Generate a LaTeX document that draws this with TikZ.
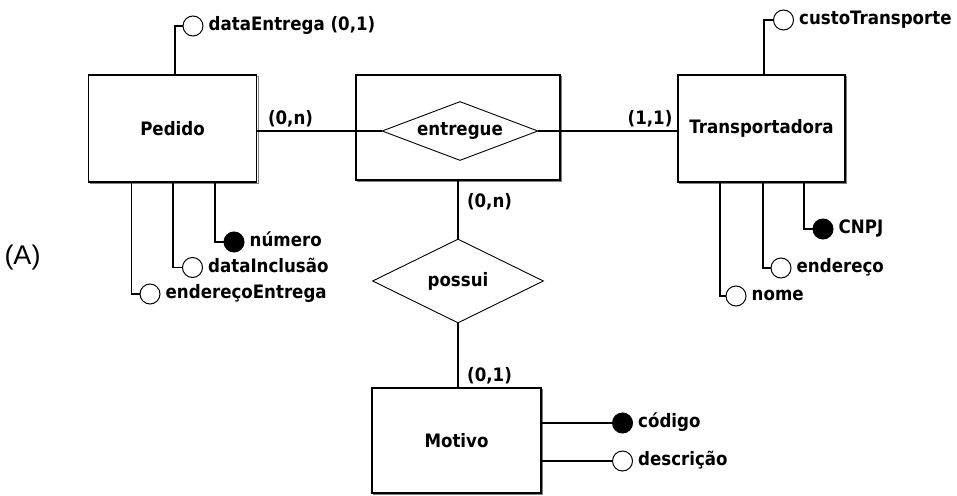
\documentclass[tikz,border=0pt]{standalone}
\usepackage{fontspec}
\setmainfont{DejaVu Sans Condensed}
\newfontfamily\labelfont{Liberation Sans}
\usetikzlibrary{shapes.geometric,shadows,positioning}
\begin{document}
\begin{tikzpicture}[x=1pt,y=-1pt,
  every node/.style={font=\bfseries\fontsize{18.5}{21}\selectfont},
  entity/.style={draw, line width=1.2pt, fill=white, rectangle, inner sep=0,
    copy shadow={shadow xshift=1.6pt, shadow yshift=-1.6pt, draw=black!50, fill=none, line width=1.2pt}},
  rel/.style={draw, diamond, line width=0.9pt, fill=white, inner sep=0},
  attr/.style={draw, circle, line width=1pt, minimum size=20pt, inner sep=0, fill=white},
  keyattr/.style={attr, fill=black},
  lbl/.style={inner sep=0, text height=13.5pt, text depth=4pt, right=5pt of #1},
  card/.style={inner sep=0, text height=13.5pt, text depth=4pt},
  conn/.style={line width=1.2pt}
]
\useasboundingbox (0,0) rectangle (957,495);

% entities and relationships
\node[entity, minimum width=168pt, minimum height=107pt] (ped) at (172.5,128.5) {Pedido};
\node[entity, minimum width=204pt, minimum height=105pt] (agg) at (458,127.5) {};
\node[rel, minimum width=156pt, minimum height=59pt, aspect=2.6] (ent) at (460,131) {entregue};
\node[entity, minimum width=167pt, minimum height=107pt] (tr) at (761.5,128.5) {Transportadora};
\node[rel, minimum width=171pt, minimum height=84pt, aspect=2] (pos) at (458,281) {possui};
\node[entity, minimum width=169pt, minimum height=105pt] (mot) at (456.5,440.5) {Motivo};

% attributes
\node[attr] (dE) at (193,26) {};
\node[lbl=dE] (dEl) {dataEntrega (0,1)};
\node[attr] (cT) at (783.5,20) {};
\node[lbl=cT] (cTl) {custoTransporte};
\node[keyattr] (num) at (234,242) {};
\node[lbl=num] (numl) {número};
\node[attr] (dI) at (192.5,267.5) {};
\node[lbl=dI] (dIl) {dataInclusão};
\node[attr] (eE) at (150,294) {};
\node[lbl=eE] (eEl) {endereçoEntrega};
\node[keyattr] (cnpj) at (823,229) {};
\node[lbl=cnpj] (cnpjl) {CNPJ};
\node[attr] (end) at (781,268) {};
\node[lbl=end] (endl) {endereço};
\node[attr] (nom) at (736,296) {};
\node[lbl=nom] (noml) {nome};
\node[keyattr] (cod) at (622.5,423) {};
\node[lbl=cod] (codl) {código};
\node[attr] (desc) at (622.5,461) {};
\node[lbl=desc] (descl) {descrição};

% connectors
\draw[conn] (dE.west) -| ([xshift=2.5pt]ped.north);
\draw[conn] (cT.west) -| ([xshift=2.5pt]tr.north);
\draw[conn] (num.west) -| ([xshift=42.5pt]ped.south);
\draw[conn] (dI.west) -| ([xshift=0.5pt]ped.south);
\draw[conn] (eE.west) -| ([xshift=-41pt]ped.south);
\draw[conn] (cnpj.west) -| ([xshift=42.5pt]tr.south);
\draw[conn] (end.west) -| ([xshift=1.5pt]tr.south);
\draw[conn] (nom.west) -| ([xshift=-41.5pt]tr.south);
\draw[conn] (ent.west) -- (ped.east |- ent.west);
\draw[conn] (ent.east) -- (tr.west |- ent.east);
\draw[conn] (pos.north) -- (agg.south -| pos.north);
\draw[conn] (pos.south) -- (mot.north -| pos.south);
\draw[conn] (cod.west) -- (mot.east |- cod.west);
\draw[conn] (desc.west) -- (mot.east |- desc.west);

% cardinalities
\node[card] (c1) at (290.5,120) {(0,n)};
\node[card] (c2) at (650,120) {(1,1)};
\node[card] (c3) at (489.5,203) {(0,n)};
\node[card] (c4) at (489.5,377) {(0,1)};

% caption
\node[font=\labelfont\fontsize{27}{30}\selectfont, inner sep=0] (capA) at (22.5,257.5) {(A)};
\end{tikzpicture}
\end{document}
